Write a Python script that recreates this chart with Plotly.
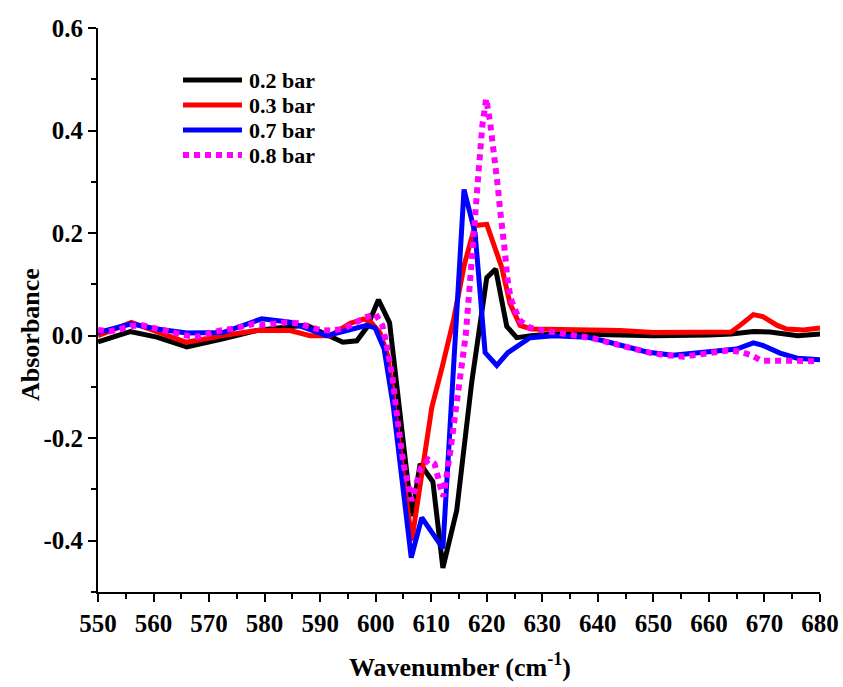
import plotly.graph_objects as go

# ---- data ----
wn_02 = [550, 555.8, 560.6, 566, 572.5, 578.6, 584.6, 587.6, 590.5, 594.1, 596.6, 598.4,
         600.5, 602.5, 606.5, 608.0, 610.3, 612.1, 614.6, 617.3, 620.0, 621.6, 623.6, 625.4,
         628, 632, 640, 650, 660, 664, 668, 671, 676, 680]
abs_02 = [-0.012, 0.008, -0.003, -0.022, -0.006, 0.010, 0.018, 0.020, 0.005, -0.013, -0.010, 0.016,
          0.070, 0.025, -0.352, -0.250, -0.285, -0.453, -0.340, -0.090, 0.113, 0.130, 0.018, -0.004,
          0.000, 0.003, 0.002, 0.000, 0.001, 0.003, 0.008, 0.007, 0.000, 0.003]

wn_03 = [550, 556, 560.6, 565.9, 572.5, 578.6, 584.6, 588.2, 591.8, 595.4, 597.8, 599, 600.8,
         602.2, 606.5, 610.1, 612, 614, 616, 617.9, 620, 622.7, 624.2, 626, 628, 632, 644, 650,
         656, 664, 665.6, 668, 669.7, 672.3, 674, 677, 680]
abs_03 = [0.000, 0.026, 0.008, -0.013, 0.000, 0.010, 0.010, 0.000, 0.000, 0.024, 0.032, 0.028, 0.005,
          -0.040, -0.400, -0.140, -0.060, 0.030, 0.140, 0.215, 0.217, 0.133, 0.062, 0.020, 0.013, 0.012, 0.010, 0.006,
          0.007, 0.007, 0.020, 0.041, 0.037, 0.020, 0.013, 0.011, 0.015]

wn_07 = [550, 556, 560.6, 566, 572.5, 576, 579.5, 584.6, 591.2, 594.8, 598.4, 599.9, 601.5,
         603.2, 606.4, 608.3, 612.1, 615.9, 617.9, 619.7, 621.8, 623.8, 627.8, 632, 638, 641,
         644, 648.8, 653.5, 656, 662, 665, 668, 669.7, 672.8, 675.9, 680]
abs_07 = [0.006, 0.023, 0.013, 0.005, 0.006, 0.020, 0.033, 0.026, 0.000, 0.010, 0.020, 0.015, -0.025,
          -0.140, -0.433, -0.355, -0.415, 0.285, 0.200, -0.033, -0.058, -0.033, -0.004, 0.000, -0.003, -0.010,
          -0.018, -0.032, -0.038, -0.035, -0.030, -0.026, -0.014, -0.019, -0.034, -0.044, -0.047]

wn_08 = [550, 552, 554, 556, 558, 560, 562, 564, 566, 568, 570, 572, 574, 576, 578, 580, 582, 584,
         586, 588, 590, 592, 594, 596, 598, 600, 601.2, 602, 603, 604, 605, 606.5, 607.1, 608.1,
         609.5, 610.6, 611.6, 612.2, 613.4, 614.5, 615.4, 616.2, 616.8, 617.3, 618, 618.6, 619.2,
         619.9, 620.6, 621.1, 621.6, 622, 622.4, 623, 623.3, 623.7, 624.3, 625.9, 627.7, 629.6,
         631.4, 633.5, 635.5, 637.5, 639.5, 641.5, 643.5, 645.4, 647.6, 649.6, 651.5, 653.5,
         655.5, 657.5, 659.5, 661.4, 663.4, 665.4, 667.6, 669.5, 671.5, 673.5, 675.5, 677.6, 679.6]
abs_08 = [0.011, 0.008, 0.013, 0.019, 0.020, 0.016, 0.010, 0.005, 0.000, -0.002, 0.005, 0.010, 0.013,
          0.018, 0.023, 0.021, 0.023, 0.026, 0.024, 0.018, 0.011, 0.010, 0.013, 0.023, 0.035, 0.042,
          0.020, -0.020, -0.080, -0.170, -0.250, -0.322, -0.300, -0.258, -0.242, -0.250, -0.293,
          -0.314, -0.228, -0.140, -0.074, 0.000, 0.080, 0.160, 0.250, 0.330, 0.410, 0.462, 0.416,
          0.375, 0.330, 0.290, 0.245, 0.200, 0.160, 0.113, 0.072, 0.030, 0.016, 0.011, 0.008, 0.005,
          0.002, -0.002, -0.006, -0.012, -0.018, -0.023, -0.029, -0.034, -0.037, -0.040, -0.041,
          -0.038, -0.034, -0.031, -0.029, -0.031, -0.038, -0.049, -0.049, -0.047, -0.049, -0.050, -0.049]

series_names = ["0.2 bar", "0.3 bar", "0.7 bar", "0.8 bar"]
x_tick_vals = [550, 560, 570, 580, 590, 600, 610, 620, 630, 640, 650, 660, 670, 680]
x_tick_text = ["550", "560", "570", "580", "590", "600", "610", "620", "630", "640", "650", "660", "670", "680"]
y_tick_vals = [-0.4, -0.2, 0.0, 0.2, 0.4, 0.6]
y_tick_text = ["-0.4", "-0.2", "0.0", "0.2", "0.4", "0.6"]
x_title = "Wavenumber (cm<sup>-1</sup>)"
y_title = "Absorbance"

# ---- figure ----
FONT = "Liberation Serif"
W, H = 843, 687
ML, MR, MT, MB = 98, 23, 28, 95
PW, PH = W - ML - MR, H - MT - MB

fig = go.Figure()
styles = [("black", 5, "solid"), ("#ff0000", 5, "solid"), ("#0000ff", 5, "solid"), ("#ff00ff", 6, "6px,5px")]
for name, xs, ys, (col, w, dash) in zip(series_names, [wn_02, wn_03, wn_07, wn_08],
                                         [abs_02, abs_03, abs_07, abs_08], styles):
    fig.add_trace(go.Scatter(x=xs, y=ys, mode="lines", name=name, showlegend=False,
                             line=dict(color=col, width=w, dash=dash)))

# manual legend (line samples + labels), positioned in plot-area pixels
leg_x0, leg_x1, leg_text_x = 85, 144, 149     # px from plot-area left
leg_rows = [52, 77, 102, 127]                  # px from plot-area top
for name, (col, w, dash), ry in zip(series_names, styles, leg_rows):
    yp = 1 - ry / PH
    fig.add_shape(type="line", xref="paper", yref="paper",
                  x0=leg_x0 / PW, x1=leg_x1 / PW, y0=yp, y1=yp,
                  line=dict(color=col, width=w, dash=dash))
    fig.add_annotation(xref="paper", yref="paper", x=leg_text_x / PW, y=yp,
                       xanchor="left", yanchor="middle", showarrow=False, text=name,
                       font=dict(family=FONT, size=22, color="black", weight="bold"))

# axis titles placed as annotations (reference puts them off-centre)
fig.add_annotation(xref="paper", yref="paper", x=(30 - ML) / PW, y=(592 - 335) / PH,
                   xanchor="center", yanchor="middle", textangle=-90, showarrow=False,
                   text=y_title, font=dict(family=FONT, size=26, color="black", weight="bold"))
fig.add_annotation(xref="paper", yref="paper", x=(460 - ML) / PW, y=-(665 - 592) / PH,
                   xanchor="center", yanchor="middle", showarrow=False,
                   text=x_title, font=dict(family=FONT, size=26, color="black", weight="bold"))

fig.update_layout(
    width=W, height=H,
    margin=dict(l=ML, r=MR, t=MT, b=MB, autoexpand=False),
    plot_bgcolor="white", paper_bgcolor="white",
    font=dict(family=FONT, size=25, color="black", weight="bold"),
    showlegend=False,
)
fig.update_xaxes(
    range=[550, 680], tickmode="array", tickvals=x_tick_vals, ticktext=x_tick_text,
    ticks="outside", ticklen=8, tickwidth=2, tickcolor="black", automargin=False,
    ticklabeloverflow="allow",
    showline=True, linewidth=2, linecolor="black", showgrid=False, zeroline=False,
    tickfont=dict(family=FONT, size=25, weight="bold"),
    minor=dict(ticks="outside", tickmode="linear", tick0=555, dtick=10, ticklen=5, tickwidth=2, tickcolor="black"),
)
fig.update_yaxes(
    range=[-0.5, 0.6], tickmode="array", tickvals=y_tick_vals, ticktext=y_tick_text,
    ticks="outside", ticklen=8, tickwidth=2, tickcolor="black", automargin=False,
    ticklabeloverflow="allow",
    showline=True, linewidth=2, linecolor="black", showgrid=False, zeroline=False,
    tickfont=dict(family=FONT, size=25, weight="bold"),
    minor=dict(ticks="outside", tickmode="linear", tick0=-0.5, dtick=0.2, ticklen=5, tickwidth=2, tickcolor="black"),
)

fig.write_html("out.html", config={"displayModeBar": False},
               post_script="document.body.style.margin='0px';")
